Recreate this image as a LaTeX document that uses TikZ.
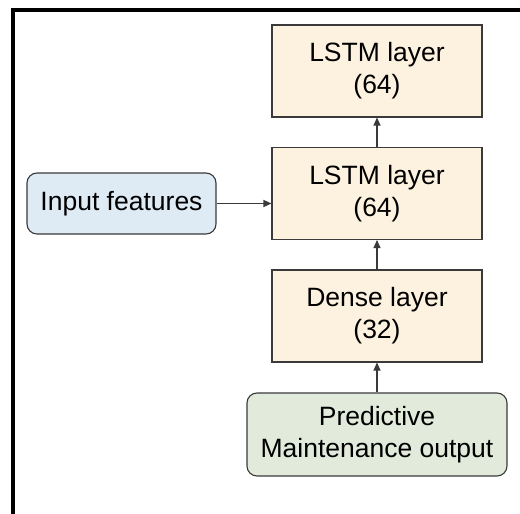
\documentclass[tikz,border=0pt]{standalone}
\usepackage{fontspec}
\setmainfont{Liberation Sans}
\usetikzlibrary{arrows.meta}
\definecolor{layerfill}{HTML}{FDF2E0}
\definecolor{infill}{HTML}{DEEAF4}
\definecolor{outfill}{HTML}{E2EBDB}
\definecolor{edge}{HTML}{3A3A3A}
\begin{document}
\begin{tikzpicture}[x=1pt,y=-1pt,
  layerbox/.style={draw=edge,line width=1.1pt,fill=layerfill,minimum width=210pt,minimum height=92pt,align=center,inner sep=0pt,font=\fontsize{26.5}{32}\selectfont},
  roundbox/.style={draw=edge,line width=1.1pt,rounded corners=10pt,align=center,inner sep=0pt,font=\fontsize{26.5}{32}\selectfont},
  conn/.style={draw=edge,line width=1.2pt,-{Triangle[length=8pt,width=7pt]}}]
\useasboundingbox (0,0) rectangle (520,514);
\fill[white] (0,0) rectangle (520,514);
\fill[black] (11,8) rectangle (520,12);
\fill[black] (11,8) rectangle (15,514);
\node[layerbox] (l2) at (377,71) {LSTM layer\\(64)};
\node[layerbox] (l1) at (377,193.5) {LSTM layer\\(64)};
\node[layerbox] (d) at (377,316) {Dense layer\\(32)};
\node[roundbox,fill=infill,minimum width=189pt,minimum height=61pt] (in) at (121.5,203.5) {Input features};
\node[roundbox,fill=outfill,minimum width=260pt,minimum height=83pt] (out) at (377,434.5) {Predictive\\Maintenance output};
\draw[conn] (in.east) -- (in.east -| l1.west);
\draw[conn] (l1.north) -- (l2.south);
\draw[conn] (d.north) -- (l1.south);
\draw[conn] (out.north) -- (d.south);
\end{tikzpicture}
\end{document}
